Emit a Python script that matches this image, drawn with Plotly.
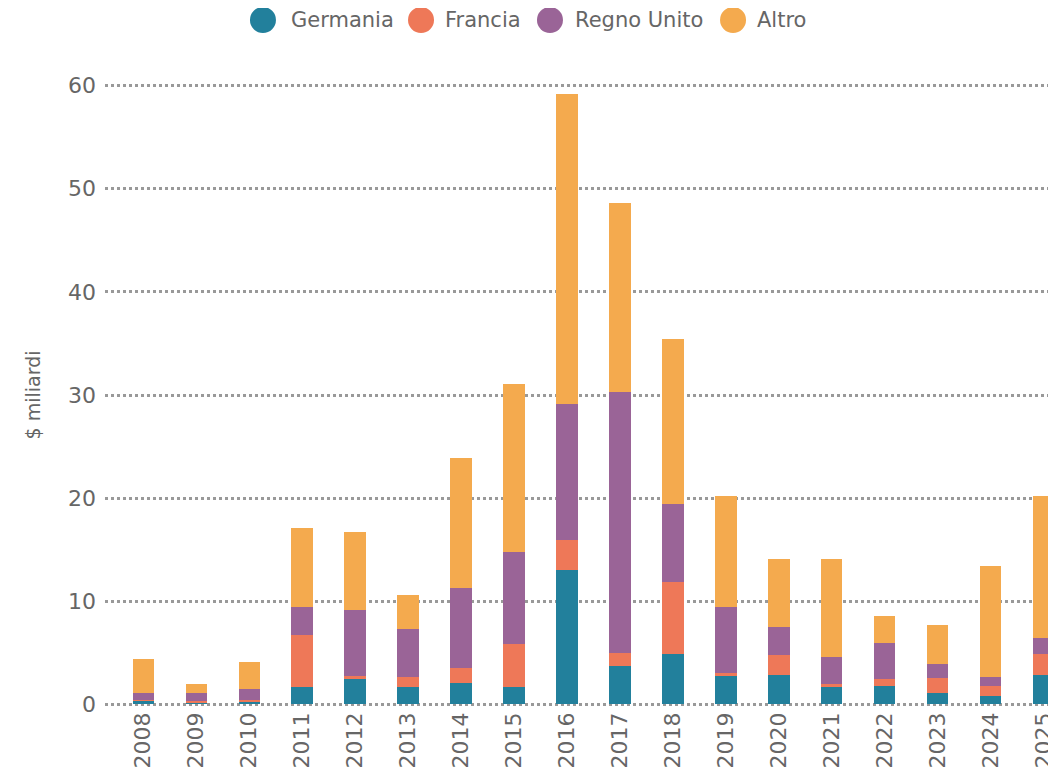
import plotly.graph_objects as go

years = [str(y) for y in range(2008, 2026)]
germania = [0.35, 0.2, 0.2, 1.65, 2.5, 1.65, 2.1, 1.65, 13.0, 3.7, 4.9, 2.75, 2.9, 1.65, 1.8, 1.15, 0.8, 2.9]
francia = [0.1, 0.1, 0.25, 5.05, 0.3, 1.0, 1.45, 4.2, 2.9, 1.25, 6.95, 0.3, 1.85, 0.35, 0.7, 1.4, 1.0, 1.95]
regno_unito = [0.7, 0.85, 1.07, 2.75, 6.4, 4.7, 7.75, 8.9, 13.2, 25.35, 7.55, 6.4, 2.8, 2.6, 3.5, 1.35, 0.9, 1.6]
altro = [3.25, 0.85, 2.58, 7.65, 7.5, 3.3, 12.6, 16.35, 30.1, 18.3, 16.0, 10.8, 6.55, 9.5, 2.6, 3.8, 10.7, 13.75]

series_names = ["Germania", "Francia", "Regno Unito", "Altro"]
colors = ["#22809c", "#ee7858", "#9a6497", "#f4aa4e"]

font_family = "'DejaVu Sans', sans-serif"
grey = "#666666"

fig = go.Figure()
for name, vals, col in zip(series_names, [germania, francia, regno_unito, altro], colors):
    fig.add_trace(go.Bar(x=years, y=vals, name=name, marker=dict(color=col, line=dict(width=0)),
                         width=0.4, showlegend=False))

# legend drawn by hand so the markers can be big circles
leg_circles = [0.1661, 0.3323, 0.4679, 0.6604]
leg_texts = [0.1956, 0.3575, 0.4942, 0.6856]
leg_y = 1.101
for name, col, cx, tx in zip(series_names, colors, leg_circles, leg_texts):
    fig.add_shape(type="circle", xref="paper", yref="paper", xsizemode="pixel", ysizemode="pixel",
                  xanchor=cx, yanchor=leg_y, x0=-13, x1=13, y0=-13, y1=13,
                  fillcolor=col, line=dict(width=0))
    fig.add_annotation(x=tx, y=leg_y, xref="paper", yref="paper", text=name, showarrow=False,
                       xanchor="left", yanchor="middle", xshift=-2,
                       font=dict(size=21, color=grey, family=font_family))

# page body has an 8px margin, so the figure is 8px smaller than the window
fig.update_layout(
    width=1048, height=770,
    margin=dict(l=97, r=0, t=75, b=71),
    paper_bgcolor="white", plot_bgcolor="white",
    barmode="stack",
    font=dict(family=font_family, color=grey),
    xaxis=dict(range=[-0.72, 17.23], tickangle=-90, tickfont=dict(size=22, color=grey),
               showgrid=False, showline=False, ticks=""),
    yaxis=dict(range=[-0.25, 60.25], tickvals=[0, 10, 20, 30, 40, 50, 60], tickfont=dict(size=22, color=grey),
               showgrid=True, gridcolor="#999999", griddash="dot", gridwidth=2.5, zeroline=False,
               ticklabelstandoff=8,
               title=dict(text="$ miliardi", font=dict(size=19, color=grey), standoff=22)),
)

fig.write_html("out.html")
